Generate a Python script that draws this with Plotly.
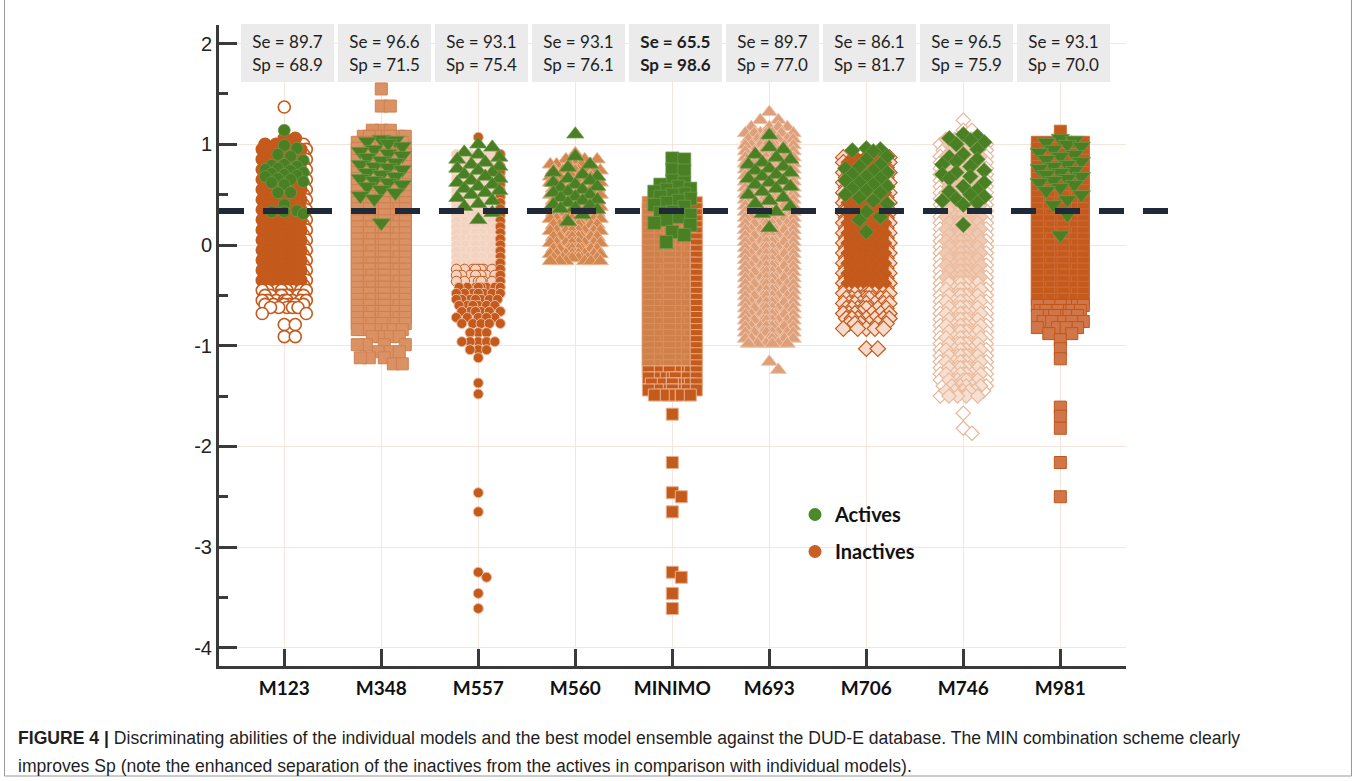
import math
import plotly.graph_objects as go

# ---------------------------------------------------------------- data
MODELS = ["M123", "M348", "M557", "M560", "MINIMO", "M693", "M706", "M746", "M981"]
SE = [89.7, 96.6, 93.1, 93.1, 65.5, 89.7, 86.1, 96.5, 93.1]
SP = [68.9, 71.5, 75.4, 76.1, 98.6, 77.0, 81.7, 75.9, 70.0]
THRESHOLD = 0.338
Y_TICKS = [2, 1, 0, -1, -2, -3, -4]

# scores of the active compounds, per model
ACT_M123 = [1.14, 0.99, 0.96, 0.90, 0.88, 0.84, 0.80, 0.79, 0.78, 0.76, 0.75, 0.74, 0.72, 0.71, 0.70,
            0.69, 0.68, 0.66, 0.65, 0.63, 0.62, 0.60, 0.52, 0.52, 0.40, 0.34, 0.33, 0.33, 0.31]
ACT_M348 = [1.05, 1.04, 1.03, 1.01, 0.98, 0.95, 0.93, 0.91, 0.89, 0.87, 0.84, 0.82, 0.80, 0.78, 0.77,
            0.75, 0.72, 0.70, 0.68, 0.66, 0.64, 0.62, 0.60, 0.58, 0.55, 0.52, 0.49, 0.46, 0.22]
ACT_M557 = [1.00, 0.97, 0.92, 0.90, 0.87, 0.85, 0.82, 0.80, 0.78, 0.76, 0.74, 0.72, 0.70, 0.68, 0.66,
            0.64, 0.62, 0.60, 0.58, 0.56, 0.54, 0.52, 0.50, 0.47, 0.44, 0.41, 0.38, 0.32, 0.25]
ACT_M560 = [1.10, 0.88, 0.80, 0.77, 0.72, 0.70, 0.68, 0.66, 0.64, 0.62, 0.60, 0.58, 0.57, 0.55, 0.53,
            0.52, 0.50, 0.48, 0.47, 0.45, 0.44, 0.42, 0.40, 0.39, 0.37, 0.36, 0.35, 0.30, 0.23]
ACT_MINIMO = [0.86, 0.85, 0.75, 0.74, 0.64, 0.62, 0.60, 0.58, 0.56, 0.55, 0.53, 0.51, 0.50, 0.48, 0.46,
              0.44, 0.42, 0.40, 0.38, 0.33, 0.32, 0.30, 0.28, 0.25, 0.22, 0.20, 0.13, 0.10, 0.03]
ACT_M693 = [1.09, 0.97, 0.95, 0.90, 0.87, 0.85, 0.82, 0.80, 0.78, 0.76, 0.74, 0.72, 0.70, 0.68, 0.66,
            0.64, 0.62, 0.60, 0.58, 0.56, 0.53, 0.50, 0.47, 0.44, 0.41, 0.38, 0.33, 0.31, 0.17]
ACT_M706 = [0.96, 0.95, 0.94, 0.93, 0.88, 0.85, 0.80, 0.78, 0.76, 0.74, 0.72, 0.70, 0.68, 0.66, 0.64,
            0.62, 0.60, 0.58, 0.56, 0.54, 0.52, 0.50, 0.47, 0.44, 0.41, 0.33, 0.28, 0.25, 0.13]
ACT_M746 = [1.10, 1.08, 1.06, 1.04, 1.02, 1.00, 0.95, 0.90, 0.87, 0.85, 0.83, 0.80, 0.78, 0.74, 0.72,
            0.70, 0.68, 0.66, 0.62, 0.58, 0.55, 0.53, 0.50, 0.48, 0.46, 0.44, 0.42, 0.40, 0.20]
ACT_M981 = [1.06, 1.04, 1.02, 1.00, 0.98, 0.95, 0.92, 0.90, 0.88, 0.85, 0.83, 0.80, 0.78, 0.76, 0.74,
            0.72, 0.70, 0.68, 0.66, 0.64, 0.62, 0.60, 0.57, 0.54, 0.50, 0.45, 0.40, 0.30, 0.10]

# scores of the decoys (inactives): (score, number of compounds at that score)
INACT_M123 = [(1.37, 1), (1.06, 2), (1.00, 5), (0.95, 8), (0.90, 9), (0.85, 9), (0.80, 9), (0.75, 9),
              (0.70, 9), (0.65, 9), (0.60, 9), (0.55, 9), (0.50, 9), (0.45, 9), (0.40, 9), (0.35, 9),
              (0.30, 9), (0.25, 9), (0.20, 9), (0.15, 9), (0.10, 9), (0.05, 9), (0.00, 9), (-0.05, 9),
              (-0.10, 9), (-0.15, 9), (-0.20, 9), (-0.25, 9), (-0.30, 9), (-0.35, 9), (-0.40, 9),
              (-0.45, 9), (-0.50, 9), (-0.55, 8), (-0.59, 7), (-0.62, 5), (-0.68, 2), (-0.79, 2),
              (-0.91, 2)]
INACT_M348 = [(1.55, 1), (1.38, 2), (1.14, 3), (1.08, 7), (1.02, 9), (0.96, 9), (0.90, 9), (0.84, 9),
              (0.78, 9), (0.72, 9), (0.66, 9), (0.60, 9), (0.54, 9), (0.48, 9), (0.42, 9), (0.36, 9),
              (0.30, 9), (0.24, 9), (0.18, 9), (0.12, 9), (0.06, 9), (0.00, 9), (-0.06, 9), (-0.12, 9),
              (-0.18, 9), (-0.24, 9), (-0.30, 9), (-0.36, 9), (-0.42, 9), (-0.48, 9), (-0.54, 9),
              (-0.60, 9), (-0.66, 9), (-0.72, 9), (-0.78, 8), (-0.84, 7), (-0.91, 4), (-0.99, 4),
              (-1.06, 3), (-1.12, 3), (-1.18, 2)]
INACT_M557 = [(1.07, 1), (0.90, 7), (0.84, 9), (0.78, 9), (0.72, 9), (0.66, 9), (0.60, 9), (0.54, 9),
              (0.48, 9), (0.42, 9), (0.36, 9), (0.30, 9), (0.24, 9), (0.18, 9), (0.12, 9), (0.06, 9),
              (0.00, 9), (-0.06, 9), (-0.12, 9), (-0.18, 9), (-0.24, 9), (-0.30, 9), (-0.36, 8),
              (-0.42, 8), (-0.48, 7), (-0.54, 7), (-0.60, 6), (-0.66, 6), (-0.72, 5), (-0.78, 5),
              (-0.87, 3), (-0.96, 5), (-1.04, 3), (-1.12, 1), (-1.37, 1), (-1.48, 1), (-2.46, 1),
              (-2.65, 1), (-3.25, 1), (-3.30, 1), (-3.46, 1), (-3.61, 1)]
INACT_M560 = [(0.91, 1), (0.85, 3), (0.80, 6), (0.74, 8), (0.68, 9), (0.62, 9), (0.56, 9), (0.50, 9),
              (0.44, 9), (0.38, 9), (0.32, 9), (0.26, 9), (0.20, 9), (0.14, 9), (0.08, 9), (0.02, 9),
              (-0.04, 9), (-0.09, 9), (-0.13, 9), (-0.16, 6)]
INACT_MINIMO = [(0.48, 5), (0.42, 9), (0.36, 9), (0.30, 9), (0.24, 9), (0.18, 9), (0.12, 9), (0.06, 9),
                (0.00, 9), (-0.06, 9), (-0.12, 9), (-0.18, 9), (-0.24, 9), (-0.30, 9), (-0.36, 9),
                (-0.42, 9), (-0.48, 9), (-0.54, 9), (-0.60, 9), (-0.66, 9), (-0.72, 9), (-0.78, 9),
                (-0.84, 9), (-0.90, 9), (-0.96, 9), (-1.02, 9), (-1.08, 9), (-1.14, 9), (-1.20, 9),
                (-1.26, 9), (-1.32, 8), (-1.38, 8), (-1.44, 7), (-1.49, 6), (-1.68, 1), (-2.16, 1),
                (-2.46, 1), (-2.50, 1), (-2.65, 1), (-3.25, 1), (-3.30, 1), (-3.46, 1), (-3.61, 1)]
INACT_M693 = [(1.32, 1), (1.24, 2), (1.17, 4), (1.11, 7), (1.05, 9), (0.99, 9), (0.93, 9), (0.87, 9),
              (0.81, 9), (0.75, 9), (0.69, 9), (0.63, 9), (0.57, 9), (0.51, 9), (0.45, 9), (0.39, 9),
              (0.33, 9), (0.27, 9), (0.21, 9), (0.15, 9), (0.09, 9), (0.03, 9), (-0.03, 9), (-0.09, 9),
              (-0.15, 9), (-0.21, 9), (-0.27, 9), (-0.33, 9), (-0.39, 9), (-0.45, 9), (-0.51, 9),
              (-0.57, 9), (-0.63, 9), (-0.69, 9), (-0.75, 9), (-0.81, 9), (-0.87, 9), (-0.93, 8),
              (-0.98, 6), (-1.16, 1), (-1.24, 1)]
INACT_M706 = [(0.87, 6), (0.82, 9), (0.77, 9), (0.72, 9), (0.67, 9), (0.62, 9), (0.57, 9), (0.52, 9),
              (0.47, 9), (0.42, 9), (0.37, 9), (0.32, 9), (0.27, 9), (0.22, 9), (0.17, 9), (0.12, 9),
              (0.07, 9), (0.02, 9), (-0.03, 9), (-0.08, 9), (-0.13, 9), (-0.18, 9), (-0.23, 9),
              (-0.28, 9), (-0.33, 9), (-0.38, 9), (-0.43, 9), (-0.48, 9), (-0.53, 9), (-0.58, 8),
              (-0.63, 8), (-0.68, 7), (-0.73, 7), (-0.78, 6), (-0.83, 5), (-1.03, 2)]
INACT_M746 = [(1.24, 1), (1.14, 2), (1.05, 5), (1.00, 8), (0.94, 9), (0.88, 9), (0.82, 9), (0.76, 9),
              (0.70, 9), (0.64, 9), (0.58, 9), (0.52, 9), (0.46, 9), (0.40, 9), (0.34, 9), (0.28, 9),
              (0.22, 9), (0.16, 9), (0.10, 9), (0.04, 9), (-0.02, 9), (-0.08, 9), (-0.14, 9),
              (-0.20, 9), (-0.26, 9), (-0.32, 9), (-0.38, 9), (-0.44, 9), (-0.50, 9), (-0.56, 9),
              (-0.62, 9), (-0.68, 9), (-0.74, 9), (-0.80, 9), (-0.86, 9), (-0.92, 9), (-0.98, 9),
              (-1.04, 9), (-1.10, 9), (-1.16, 9), (-1.22, 9), (-1.28, 9), (-1.34, 8), (-1.40, 7),
              (-1.45, 6), (-1.50, 5), (-1.67, 1), (-1.82, 1), (-1.87, 1)]
INACT_M981 = [(1.13, 1), (1.02, 6), (0.96, 9), (0.90, 9), (0.84, 9), (0.78, 9), (0.72, 9), (0.66, 9),
              (0.60, 9), (0.54, 9), (0.48, 9), (0.42, 9), (0.36, 9), (0.30, 9), (0.24, 9), (0.18, 9),
              (0.12, 9), (0.06, 9), (0.00, 9), (-0.06, 9), (-0.12, 9), (-0.18, 9), (-0.24, 9),
              (-0.30, 9), (-0.36, 9), (-0.42, 9), (-0.48, 9), (-0.54, 9), (-0.60, 8), (-0.65, 7),
              (-0.70, 6), (-0.76, 5), (-0.82, 4), (-0.88, 2), (-0.94, 1), (-1.03, 1), (-1.13, 1),
              (-1.61, 1), (-1.70, 1), (-1.82, 1), (-2.16, 1), (-2.50, 1)]

ACTIVES = [ACT_M123, ACT_M348, ACT_M557, ACT_M560, ACT_MINIMO, ACT_M693, ACT_M706, ACT_M746, ACT_M981]
INACTIVES = [INACT_M123, INACT_M348, INACT_M557, INACT_M560, INACT_MINIMO, INACT_M693,
             INACT_M706, INACT_M746, INACT_M981]

# ---------------------------------------------------------------- geometry & style
W, H = 1357, 781
M_L, M_R, M_T, M_B = 219, 231, 25, 115
X_RANGE = [-0.673, 8.677]
Y_RANGE = [-4.181, 2.185]
PLOT_W = W - M_L - M_R
PLOT_H = H - M_T - M_B
PX_X = PLOT_W / (X_RANGE[1] - X_RANGE[0])
PX_Y = PLOT_H / (Y_RANGE[1] - Y_RANGE[0])

GREEN = "#4a7f23"
GREEN_EDGE = "#6f9d4d"
DARK = "#c45a1c"
MED = "#d0804a"
PEACH = "#f3d3bf"
PEACH_LINE = "#f6ddcd"
PALE_FILL = "#f6dacb"
AXIS = "#3a3a3a"
GRID = "#f4e5dd"

# marker symbol, size, half-width of the swarm (px), outline width for decoys
INACT_STYLE = {
    "M123": dict(symbol="circle", size=12, half=22, lw=1.6),
    "M348": dict(symbol="square", size=12, half=24, lw=1.0),
    "M557": dict(symbol="circle", size=10, half=22, lw=1.0),
    "M560": dict(symbol="triangle-up", size=14, half=25, lw=1.0),
    "MINIMO": dict(symbol="square", size=12, half=24, lw=1.0),
    "M693": dict(symbol="triangle-up", size=14, half=24, lw=1.0),
    "M706": dict(symbol="diamond", size=12, half=23, lw=1.2),
    "M746": dict(symbol="diamond", size=11, half=23, lw=1.2),
    "M981": dict(symbol="square", size=12, half=23, lw=1.0),
}
ACT_STYLE = {
    "M123": dict(symbol="circle", size=12, half=19),
    "M348": dict(symbol="triangle-down", size=16, half=21),
    "M557": dict(symbol="triangle-up", size=15, half=21),
    "M560": dict(symbol="triangle-up", size=15, half=22),
    "MINIMO": dict(symbol="square", size=13, half=18),
    "M693": dict(symbol="triangle-up", size=15, half=21),
    "M706": dict(symbol="diamond", size=12, half=21),
    "M746": dict(symbol="diamond", size=12, half=21),
    "M981": dict(symbol="triangle-down", size=16, half=21),
}


def swarm(values, half_px, step_px, dmin_px):
    """Greedy beeswarm: horizontal pixel offsets for values taken top-down."""
    cands = [0.0]
    k = 1
    while k * step_px <= half_px + 1e-6:
        cands += [k * step_px, -k * step_px]
        k += 1
    placed, out = [], []
    for v in values:
        y = v * PX_Y
        near = [(px, py) for px, py in placed[-90:] if abs(py - y) < dmin_px]
        best, best_d = 0.0, -1.0
        for c in cands:
            d = min((math.hypot(c - px, y - py) for px, py in near), default=1e9)
            if d >= dmin_px:
                best = c
                break
            if d > best_d + 1e-9:
                best, best_d = c, d
        placed.append((best, y))
        out.append(best)
    return out


def decoy_colors(name, v, o, half):
    """Fill colour, outline colour and drawing rank (lower is drawn first)."""
    right_edge = o >= half - 3.0
    edge = abs(o) >= half - 3.0
    if name == "M123":
        if -0.42 < v < 1.2 and not right_edge:
            return DARK, DARK, 1
        return "white", DARK, (0 if -0.42 < v < 1.2 else 1)
    if name == "M348":
        return "#da9164", "#cf804f", 1
    if name == "M557":
        if v > 1.0:
            return DARK, "#eebda0", 1
        if v > -0.22:
            return ((DARK, "#e9a884", 1) if right_edge else (PEACH, PEACH_LINE, 1))
        if v > -0.40:
            return ((DARK, "#e9a884", 1) if right_edge else (PEACH, DARK, 1))
        return DARK, "#eebda0", 1
    if name == "M560":
        return "#d4874f", "#eab592", 1
    if name == "MINIMO":
        if v > -1.23:
            return ((DARK, "#e7ab86", 1) if right_edge else (MED, "#d98f60", 1))
        return DARK, "#e9b08d", 1
    if name == "M693":
        return "#dea07b", "#efc5aa", 1
    if name == "M706":
        if v > -0.45:
            return ((PALE_FILL, DARK, 0) if edge else (DARK, DARK, 1))
        return PALE_FILL, DARK, 1
    if name == "M746":
        if v > 1.1 or v < -1.55:
            return "white", "#e8b597", 1
        if edge:
            return "white", "#e8b597", 0
        if v > -0.35:
            return "#efc9b1", "#eabb9e", 1
        return "#f6e0d2", "#e9b99b", 1
    # M981
    if v > -0.57:
        return DARK, "#cd6b37", 1
    return "#d07649", "#c0561a", 1


def paper_x(px):
    return (px - M_L) / PLOT_W


def paper_y(py):
    return (H - M_B - py) / PLOT_H


# ---------------------------------------------------------------- traces
fig = go.Figure()

for i, name in enumerate(MODELS):
    st = INACT_STYLE[name]
    vals = sorted([lv for lv, n in INACTIVES[i] for _ in range(n)], reverse=True)
    offs = swarm(vals, st["half"], st["half"] / 8.0, st["size"] * 0.75)
    pts = []
    for k, (v, o) in enumerate(zip(vals, offs)):
        f, l, rank = decoy_colors(name, v, o, st["half"])
        pts.append((rank, k, v, o, f, l))
    pts.sort(key=lambda p: (p[0], p[1]))
    fig.add_trace(go.Scatter(
        x=[i + p[3] / PX_X for p in pts], y=[p[2] for p in pts], mode="markers",
        showlegend=False, hoverinfo="skip",
        marker=dict(symbol=st["symbol"], size=st["size"], color=[p[4] for p in pts],
                    line=dict(color=[p[5] for p in pts], width=st["lw"])),
    ))

for i, name in enumerate(MODELS):
    st = ACT_STYLE[name]
    vals = sorted(ACTIVES[i], reverse=True)
    offs = swarm(vals, st["half"], st["half"] / 3.0, st["size"] * 0.8)
    fig.add_trace(go.Scatter(
        x=[i + o / PX_X for o in offs], y=vals, mode="markers", showlegend=False,
        hoverinfo="skip",
        marker=dict(symbol=st["symbol"], size=st["size"], color=GREEN,
                    line=dict(color=GREEN_EDGE, width=0.7)),
    ))

# legend entries
fig.add_trace(go.Scatter(x=[None], y=[None], mode="markers", name="Actives", legendgroup="a",
                         marker=dict(symbol="circle", size=13, color="#4a8a28")))
fig.add_trace(go.Scatter(x=[None], y=[None], mode="markers", name="Inactives", legendgroup="b",
                         marker=dict(symbol="circle", size=13, color="#c95f24")))

# ---------------------------------------------------------------- annotations
annotations = []
for i, name in enumerate(MODELS):
    txt = f"Se = {SE[i]:.1f}<br>Sp = {SP[i]:.1f}"
    if name == "MINIMO":
        txt = f"<b>Se = {SE[i]:.1f}</b><br><b>Sp = {SP[i]:.1f}</b>"
    annotations.append(dict(
        x=i, xref="x", y=1, yref="paper", xanchor="center", yanchor="top",
        xshift=3, yshift=1, text=txt, showarrow=False, align="center",
        width=89, height=54, borderpad=2, borderwidth=0, bgcolor="#ebebeb",
        font=dict(family="Lato", size=17, color="#1e1e1e"),
    ))

CAPTION_FONT = dict(family="Liberation Sans", size=17.6, color="#1f1f1f")
annotations.append(dict(
    x=paper_x(16), y=paper_y(738), xref="paper", yref="paper", xanchor="left", yanchor="middle",
    showarrow=False, align="left",
    text="<b>FIGURE 4 |</b> Discriminating abilities of the individual models and the best model "
         "ensemble against the DUD-E database. The MIN combination scheme clearly",
    font=CAPTION_FONT,
))
annotations.append(dict(
    x=paper_x(16), y=paper_y(766), xref="paper", yref="paper", xanchor="left", yanchor="middle",
    showarrow=False, align="left",
    text="improves Sp (note the enhanced separation of the inactives from the actives in "
         "comparison with individual models).",
    font=CAPTION_FONT,
))

# ---------------------------------------------------------------- shapes
thr_paper = (THRESHOLD - Y_RANGE[0]) / (Y_RANGE[1] - Y_RANGE[0])
shapes = [
    dict(type="line", xref="paper", yref="paper", x0=0, x1=paper_x(1170),
         y0=thr_paper, y1=thr_paper, layer="above",
         line=dict(color="#1f2937", width=6, dash="25px,19px")),
    # figure frame
    dict(type="line", xref="paper", yref="paper", x0=paper_x(4.5), x1=paper_x(4.5),
         y0=paper_y(0), y1=paper_y(776), line=dict(color="#9a9a9a", width=1)),
    dict(type="line", xref="paper", yref="paper", x0=paper_x(1351.5), x1=paper_x(1351.5),
         y0=paper_y(0), y1=paper_y(776), line=dict(color="#9a9a9a", width=1)),
    dict(type="line", xref="paper", yref="paper", x0=paper_x(4.5), x1=paper_x(1351.5),
         y0=paper_y(776), y1=paper_y(776), line=dict(color="#9a9a9a", width=1)),
]

# ---------------------------------------------------------------- layout
fig.update_layout(
    width=W, height=H,
    margin=dict(l=M_L, r=M_R, t=M_T, b=M_B),
    paper_bgcolor="white", plot_bgcolor="white",
    xaxis=dict(
        range=X_RANGE, tickmode="array", tickvals=list(range(len(MODELS))), ticktext=MODELS,
        ticks="inside", ticklen=17, tickwidth=3, tickcolor=AXIS, ticklabelstandoff=3,
        showline=True, linewidth=3, linecolor=AXIS,
        showgrid=True, gridcolor=GRID, gridwidth=1, zeroline=False,
        tickfont=dict(family="Lato", size=19, color="#111111", weight="bold"),
    ),
    yaxis=dict(
        range=Y_RANGE, tickmode="array", tickvals=Y_TICKS, ticktext=[str(t) for t in Y_TICKS],
        ticks="inside", ticklen=18, tickwidth=3, tickcolor=AXIS,
        showline=True, linewidth=3, linecolor=AXIS,
        showgrid=True, gridcolor=GRID, gridwidth=1, zeroline=False,
        tickfont=dict(family="Liberation Sans", size=20, color="#222222"),
        minor=dict(tickvals=[1.5, 0.5, -0.5, -1.5, -2.5, -3.5], ticks="inside", ticklen=9,
                   tickwidth=2.5, tickcolor=AXIS, showgrid=False),
    ),
    legend=dict(x=paper_x(795), y=paper_y(495), xanchor="left", yanchor="top",
                bgcolor="rgba(0,0,0,0)", itemsizing="trace", traceorder="grouped",
                tracegroupgap=8,
                font=dict(family="Lato", size=20, color="#111111", weight="bold")),
    annotations=annotations,
    shapes=shapes,
)

fig.write_html("out.html")
